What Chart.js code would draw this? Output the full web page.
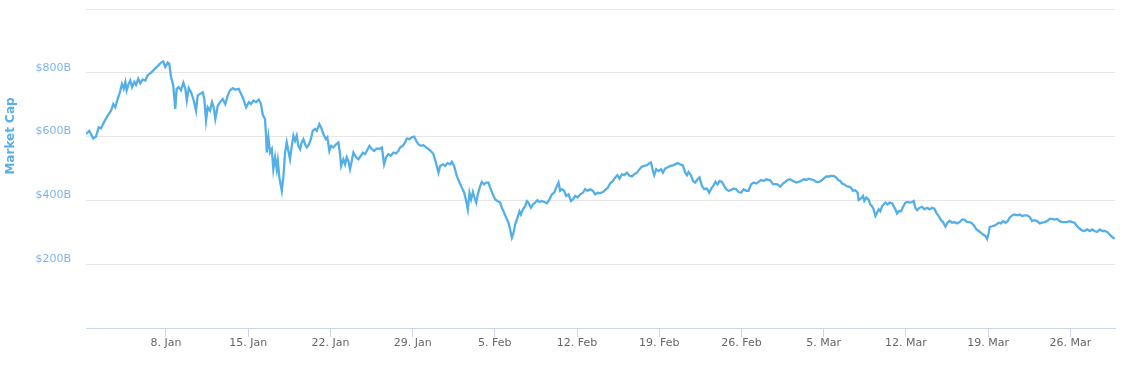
<!DOCTYPE html>
<html>
<head>
<meta charset="utf-8">
<script src="https://cdn.jsdelivr.net/npm/chart.js@4/dist/chart.umd.min.js"></script>
<style>
  html, body { margin: 0; padding: 0; background: #ffffff; }
  #wrap { width: 1142px; height: 374px; }
</style>
</head>
<body>
<div id="wrap"><canvas id="c" width="1142" height="374"></canvas></div>
<script>
// Days since 1 Jan 2018 (00:00)
const days = [
0.19,0.47,0.61,0.81,1.04,1.27,1.47,1.75,2.04,2.32,2.51,2.68,2.89,3.08,3.25,3.40,3.54,3.65,3.82,3.96,
4.11,4.30,4.45,4.64,4.81,5.02,5.24,5.44,5.72,6.01,6.29,6.58,6.77,6.94,7.15,7.28,7.43,7.62,7.79,7.91,
8.08,8.28,8.48,8.65,8.77,8.94,9.13,9.33,9.56,9.70,9.90,10.13,10.26,10.41,10.55,10.75,10.92,11.06,11.20,11.41,
11.60,11.83,12.05,12.26,12.45,12.68,12.90,13.19,13.39,13.59,13.82,14.05,14.24,14.44,14.67,14.90,15.09,15.24,15.43,15.52,
15.58,15.72,15.86,16.01,16.14,16.29,16.43,16.52,16.65,16.86,16.99,17.14,17.28,17.42,17.56,17.71,17.85,17.99,18.13,18.27,
18.42,18.56,18.70,18.84,18.99,19.18,19.33,19.50,19.69,19.84,20.06,20.20,20.40,20.61,20.74,20.91,21.06,21.25,21.48,21.68,
21.82,21.91,22.10,22.25,22.39,22.53,22.67,22.82,22.96,23.19,23.38,23.59,23.76,23.95,24.10,24.32,24.52,24.72,24.95,25.17,
25.38,25.57,25.74,25.94,26.14,26.36,26.59,26.79,26.93,27.16,27.36,27.50,27.73,27.93,28.13,28.30,28.49,28.70,28.92,29.15,
29.34,29.55,29.77,30.00,30.20,30.34,30.57,30.77,30.96,31.19,31.34,31.53,31.76,31.99,32.19,32.39,32.56,32.70,32.84,32.98,
33.13,33.26,33.41,33.55,33.75,33.89,34.09,34.26,34.46,34.60,34.83,35.03,35.22,35.45,35.60,35.79,35.96,36.16,36.30,36.45,
36.59,36.73,36.93,37.10,37.22,37.39,37.58,37.73,37.86,38.07,38.24,38.43,38.63,38.80,39.00,39.20,39.43,39.65,39.86,40.05,
40.22,40.42,40.56,40.71,40.90,41.07,41.27,41.48,41.64,41.84,42.04,42.27,42.50,42.69,42.89,43.12,43.35,43.54,43.74,43.97,
44.20,44.40,44.59,44.81,45.05,45.25,45.44,45.61,45.82,46.01,46.24,46.47,46.67,46.87,47.10,47.32,47.52,47.72,47.95,48.17,
48.29,48.46,48.57,48.74,48.94,49.14,49.31,49.51,49.70,49.93,50.16,50.36,50.55,50.79,51.01,51.21,51.36,51.49,51.70,51.87,
52.06,52.26,52.43,52.63,52.83,53.06,53.25,53.43,53.62,53.79,53.96,54.13,54.34,54.53,54.70,54.90,55.10,55.33,55.55,55.75,
55.95,56.18,56.41,56.60,56.81,57.03,57.26,57.45,57.66,57.88,58.11,58.31,58.45,58.68,58.88,59.07,59.30,59.53,59.73,59.92,
60.15,60.38,60.67,60.86,61.07,61.29,61.52,61.71,61.92,62.14,62.37,62.57,62.77,62.99,63.22,63.45,63.65,63.84,64.05,64.24,
64.41,64.56,64.76,64.93,65.12,65.33,65.49,65.69,65.89,65.97,66.18,66.35,66.46,66.63,66.82,66.97,67.11,67.25,67.40,67.54,
67.68,67.82,67.97,68.10,68.25,68.44,68.61,68.82,68.95,69.10,69.24,69.38,69.59,69.76,69.95,70.15,70.32,70.52,70.66,70.80,
70.95,71.17,71.37,71.57,71.80,72.02,72.22,72.42,72.59,72.79,72.99,73.16,73.36,73.55,73.72,73.93,74.12,74.35,74.57,74.78,
74.98,75.21,75.43,75.63,75.83,76.00,76.20,76.40,76.57,76.77,76.91,77.05,77.13,77.34,77.53,77.70,77.90,78.10,78.27,78.47,
78.66,78.83,79.04,79.24,79.47,79.69,79.89,80.09,80.32,80.54,80.74,80.94,81.17,81.39,81.59,81.79,82.02,82.24,82.45,82.64,
82.87,83.09,83.30,83.49,83.72,83.94,84.15,84.35,84.57,84.80,85.00,85.20,85.43,85.65,85.85,86.05,86.28,86.50,86.71,86.90,
87.13,87.35,87.56,87.76
];
// Total market capitalisation, billions USD
const marketCap = [
608,618,608,594,600,629,626,647,666,681,702,692,718,739,765,750,771,745,765,776,
755,771,762,781,767,779,776,792,800,811,821,832,836,818,832,828,787,760,687,750,
755,745,769,750,713,752,739,718,681,729,734,739,718,650,692,681,708,692,655,697,
708,718,702,729,745,752,747,750,734,718,692,708,702,713,708,716,702,668,655,603,
550,598,550,561,498,535,498,524,472,430,472,550,582,555,529,571,603,587,603,571,
561,582,592,576,566,576,592,618,624,618,639,629,608,592,598,555,571,566,576,582,
545,508,529,513,535,524,498,524,550,535,529,540,550,545,555,571,561,555,563,561,
566,513,535,545,540,550,547,555,566,571,582,594,592,598,600,587,576,571,573,566,
561,555,545,516,487,508,513,508,517,513,521,508,477,456,440,424,398,372,424,403,
426,409,393,419,445,458,450,456,456,440,419,403,398,393,377,361,346,330,309,283,
298,324,346,366,356,372,382,398,393,377,387,393,401,395,398,395,391,403,419,424,
440,456,430,435,430,414,419,398,403,414,409,419,424,435,430,435,430,419,424,423,
426,433,438,453,461,472,479,468,482,479,487,477,475,482,487,498,506,508,510,517,
519,492,479,498,492,498,487,500,503,508,510,513,517,513,510,487,479,489,479,461,
456,466,472,445,435,437,424,437,447,458,450,461,458,445,435,430,432,437,435,426,
424,435,430,430,450,456,453,458,464,461,466,464,463,451,451,450,443,453,458,464,
466,461,456,458,461,466,464,468,466,464,458,458,461,468,475,475,477,477,472,464,
461,453,450,445,443,440,430,432,424,401,406,414,398,409,403,387,382,372,351,361,
372,366,382,387,393,387,393,391,382,372,359,366,366,380,393,395,393,395,398,377,
369,377,380,372,377,372,377,374,361,351,338,332,318,331,336,330,332,328,332,340,
340,332,332,328,319,309,304,298,293,288,279,298,317,319,321,324,330,328,335,330,
335,346,353,356,353,356,351,353,353,348,335,338,335,328,330,332,335,342,342,340,
342,335,332,332,332,335,332,330,319,311,306,304,309,304,309,304,301,309,304,304,
301,293,285,280
];
const tickDays = [7, 14, 21, 28, 35, 42, 49, 56, 63, 70, 77, 84];
const tickLabels = ["8. Jan","15. Jan","22. Jan","29. Jan","5. Feb","12. Feb","19. Feb","26. Feb","5. Mar","12. Mar","19. Mar","26. Mar"];
const yTicks = [0, 200, 400, 600, 800, 1000];
const yTickLabels = ["", "$200B", "$400B", "$600B", "$800B", ""];
const yTitle = "Market Cap";

const points = days.map((d, i) => ({ x: d, y: marketCap[i] }));

const titlePlugin = {
  id: 'yTitle',
  afterDraw(chart) {
    const ctx = chart.ctx;
    ctx.save();
    ctx.translate(11, 136);
    ctx.rotate(-Math.PI / 2);
    ctx.font = 'bold 12px "DejaVu Sans", Verdana, sans-serif';
    ctx.fillStyle = '#5aaee6';
    ctx.textAlign = 'center';
    ctx.textBaseline = 'middle';
    ctx.fillText(yTitle, 0, 0);
    ctx.restore();
  }
};

new Chart(document.getElementById('c'), {
  type: 'line',
  data: {
    datasets: [{
      data: points,
      borderColor: '#55afe7',
      borderWidth: 2.3,
      pointRadius: 0,
      tension: 0,
      fill: false
    }]
  },
  options: {
    responsive: false,
    animation: false,
    events: [],
    layout: { padding: { top: 9, right: 27, left: 0, bottom: 0 } },
    plugins: { legend: { display: false }, tooltip: { enabled: false } },
    scales: {
      x: {
        type: 'linear',
        min: 0.19,
        max: 87.8,
        afterBuildTicks: (s) => { s.ticks = tickDays.map(v => ({ value: v })); },
        afterFit: (s) => { s.height = 46; s.paddingLeft = 0; s.paddingRight = 0; },
        ticks: {
          autoSkip: false,
          maxRotation: 0,
          padding: 0,
          color: '#666666',
          font: { family: '"DejaVu Sans", Verdana, sans-serif', size: 11 },
          callback: (v) => { const i = tickDays.indexOf(v); return i >= 0 ? tickLabels[i] : ''; }
        },
        grid: {
          display: true,
          drawOnChartArea: false,
          drawTicks: true,
          tickLength: 9,
          color: '#ccd6eb'
        },
        border: { display: true, color: '#ccd6eb', width: 1 }
      },
      y: {
        min: 0,
        max: 1000,
        afterBuildTicks: (s) => { s.ticks = yTicks.map(v => ({ value: v })); },
        afterFit: (s) => { s.width = 86; s.paddingTop = 0; s.paddingBottom = 0; },
        ticks: {
          padding: 15,
          labelOffset: -5,
          color: '#7cb5ec',
          font: { family: '"DejaVu Sans", Verdana, sans-serif', size: 11 },
          callback: (v) => { const i = yTicks.indexOf(v); return i >= 0 ? yTickLabels[i] : ''; }
        },
        grid: { color: '#e6e6e6', drawTicks: false, lineWidth: 1 },
        border: { display: false }
      }
    }
  },
  plugins: [titlePlugin]
});
</script>
</body>
</html>
